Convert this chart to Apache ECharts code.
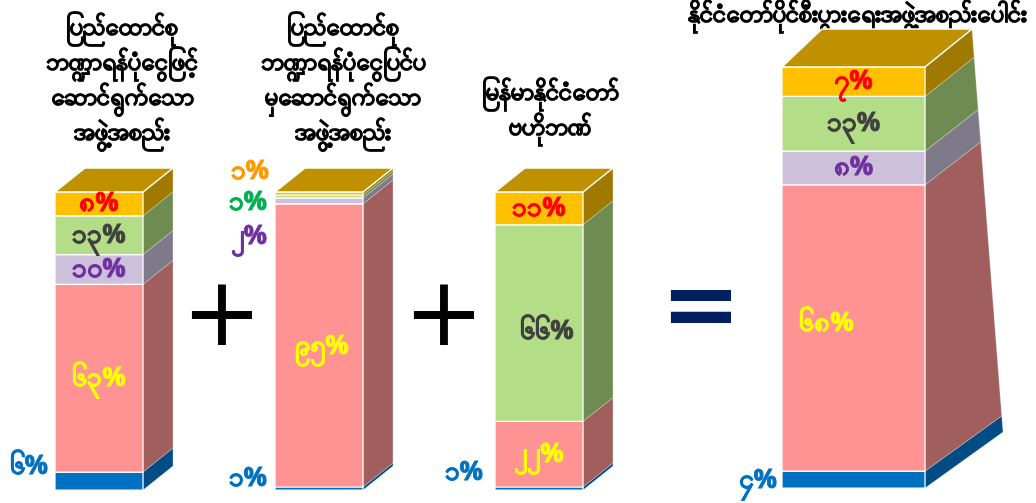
<!DOCTYPE html>
<html>
<head>
<meta charset="utf-8">
<script src="https://cdn.jsdelivr.net/npm/echarts@6/dist/echarts.min.js"></script>
<style>
  html, body { margin: 0; padding: 0; background: #ffffff; }
  #chart { width: 1036px; height: 503px; }
</style>
</head>
<body>
<div id="chart"></div>
<script>
// Group headings (one array of lines per column)
const groupTitles = [
  ['ပြည်ထောင်စု', 'ဘဏ္ဍာရန်ပုံငွေဖြင့်', 'ဆောင်ရွက်သော', 'အဖွဲ့အစည်း'],
  ['ပြည်ထောင်စု', 'ဘဏ္ဍာရန်ပုံငွေပြင်ပ', 'မှဆောင်ရွက်သော', 'အဖွဲ့အစည်း'],
  ['မြန်မာနိုင်ငံတော်', 'ဗဟိုဘဏ်'],
  ['နိုင်ငံတော်ပိုင်စီးပွားရေးအဖွဲ့အစည်းပေါင်း']
];

// Shares (%) of each stacked segment, bottom to top
const blueShare     = [6, 1, 1, 4];
const pinkShare     = [63, 95, 22, 68];
const lavenderShare = [10, 2, 0, 8];
const greenShare    = [13, 1, 66, 13];
const yellowShare   = [8, 1, 11, 7];

// Operators placed between the columns
const operators = ['+', '+', '='];

// ---------- styling / layout ----------
const segmentShares = [blueShare, pinkShare, lavenderShare, greenShare, yellowShare];
const frontColor = ['#0070c0', '#ff9393', '#ccc0da', '#b3dd86', '#ffc000'];
const sideColor  = ['#004c85', '#a05f5c', '#7f7a8a', '#6e8c52', '#a07a00'];
const topColor   = '#bf9000';
const insideLabelColor  = ['#0070c0', '#ffff00', '#7030a0', '#404040', '#ff0000'];
const outsideLabelColor = ['#0070c0', '#ffff00', '#7030a0', '#00b050', '#ff9900'];

// front face box of each column + depth of the 3D box at its top and bottom
// (dxL: shift of the back-left edge, dxT/dxB: shift of the back-right edge,
//  dyT/dyB: rise of the back edge at the top / bottom)
const boxes = [
  { left: 55,  top: 192, width: 88,  height: 298, dxL: 30, dxT: 30, dxB: 30, dyT: 24, dyB: 24 },
  { left: 275, top: 192, width: 88,  height: 298, dxL: 30, dxT: 30, dxB: 30, dyT: 24, dyB: 24 },
  { left: 495, top: 192, width: 88,  height: 298, dxL: 30, dxT: 30, dxB: 30, dyT: 24, dyB: 24 },
  { left: 782, top: 67,  width: 143, height: 421, dxL: 40, dxT: 47, dxB: 78, dyT: 38, dyB: 56 }
];
// small segments get their label beside the column: [gap to column, vertical shift]
const outsideShift = {
  '0-0': [7, -14],
  '1-0': [8, -10], '1-2': [8, 36], '1-3': [8, 6.5], '1-4': [6, -21.5],
  '2-0': [12, -15.5],
  '3-0': [5, 1]
};
// nudges of some in-bar labels: [dx, dy]
const insideShift = { '1-1': [3, 1], '2-3': [8, 8], '3-1': [-27, -4] };
const titleCenters = [122, 343, 550, 857];
const titleTops = [28, 28, 93, 15];
const titleSizes = [24, 24, 24, 24];
const operatorPos = [[222, 320], [444, 320], [701, 312]];
const labelFont = 'bold 26px "Noto Sans", sans-serif';

const myDigits = ['၀','၁','၂','၃','၄','၅','၆','၇','၈','၉'];
function toMyanmar(n) {
  return String(n).split('').map(function (c) { return myDigits[+c]; }).join('');
}

const chart = echarts.init(document.getElementById('chart'), null, { renderer: 'canvas' });

const grids = [], xAxes = [], yAxes = [], series = [];
boxes.forEach(function (b, bi) {
  grids.push({ left: b.left, top: b.top, width: b.width, height: b.height });
  xAxes.push({ type: 'category', gridIndex: bi, data: [groupTitles[bi].join(' ')], show: false,
               boundaryGap: true });
  yAxes.push({ type: 'value', gridIndex: bi, min: 0, max: 100, show: false });

  // stack the segments: [category, start, end, segment]
  const data = [];
  let acc = 0, topSeg = 0;
  segmentShares.forEach(function (arr, si) {
    const v = arr[bi];
    data.push([0, acc, acc + v, si]);
    if (v > 0) topSeg = si;
    acc += v;
  });

  series.push({
    type: 'custom',
    xAxisIndex: bi,
    yAxisIndex: bi,
    clip: false,
    data: data,
    renderItem: function (params, api) {
      const start = api.value(1), end = api.value(2), si = api.value(3);
      const v = end - start;
      if (v <= 0) return null;
      const bw = api.size([1, 0])[0];
      const cx = api.coord([0, 0])[0];
      const x0 = cx - bw / 2, x1 = cx + bw / 2;
      const yb = api.coord([0, start])[1];
      const yt = api.coord([0, end])[1];
      const yTopAll = api.coord([0, 100])[1], yBotAll = api.coord([0, 0])[1];
      // back-right edge point for a given height on the front-right edge
      function back(y) {
        const t = (y - yTopAll) / (yBotAll - yTopAll);
        return [x1 + b.dxT + t * (b.dxB - b.dxT), y - (b.dyT + t * (b.dyB - b.dyT))];
      }
      const kids = [
        { type: 'polygon', shape: { points: [[x1, yt], back(yt), back(yb), [x1, yb]] },
          style: { fill: sideColor[si], stroke: 'rgba(255,255,255,0.35)', lineWidth: 0.8 } },
        { type: 'rect', shape: { x: x0, y: yt, width: bw, height: yb - yt },
          style: { fill: frontColor[si], stroke: '#ffffff', lineWidth: 1.2 } }
      ];
      if (si === topSeg) {
        const br = back(yt);
        kids.push({ type: 'polygon',
          shape: { points: [[x0, yt], [x0 + b.dxL, br[1]], br, [x1, yt]] },
          style: { fill: topColor, stroke: '#ffffff', lineWidth: 1.5 } });
      }
      const txt = toMyanmar(v) + '%';
      const key = bi + '-' + si;
      let lx = cx, ly = (yt + yb) / 2, al = 'center', col = insideLabelColor[si];
      if (outsideShift[key]) {
        const s = outsideShift[key];
        lx = x0 - s[0]; ly += s[1]; al = 'right'; col = outsideLabelColor[si];
      } else if (insideShift[key]) {
        lx += insideShift[key][0]; ly += insideShift[key][1];
      }
      kids.push({ type: 'text', style: {
        text: txt, x: lx, y: ly, align: al, verticalAlign: 'middle',
        fill: col, stroke: col, lineWidth: 0.9, font: labelFont } });
      return { type: 'group', children: kids };
    }
  });
});

const graphics = [];
groupTitles.forEach(function (lines, gi) {
  lines.forEach(function (line, li) {
    graphics.push({ type: 'text', x: titleCenters[gi], y: titleTops[gi] + li * 35,
      style: { text: line, align: 'center', verticalAlign: 'middle', fill: '#000000',
               stroke: '#000000', lineWidth: 0.8,
               font: 'bold ' + titleSizes[gi] + 'px "Noto Sans", sans-serif' } });
  });
});
operators.forEach(function (op, oi) {
  graphics.push({ type: 'text', x: operatorPos[oi][0], y: operatorPos[oi][1],
    style: { text: op, align: 'center', verticalAlign: 'middle',
             fill: op === '=' ? '#002060' : '#000000',
             font: (op === '=' ? 'bold ' : '') + '96px "DejaVu Sans", sans-serif' } });
});

chart.setOption({
  animation: false,
  backgroundColor: '#ffffff',
  grid: grids,
  xAxis: xAxes,
  yAxis: yAxes,
  series: series,
  graphic: graphics
});
</script>
</body>
</html>
